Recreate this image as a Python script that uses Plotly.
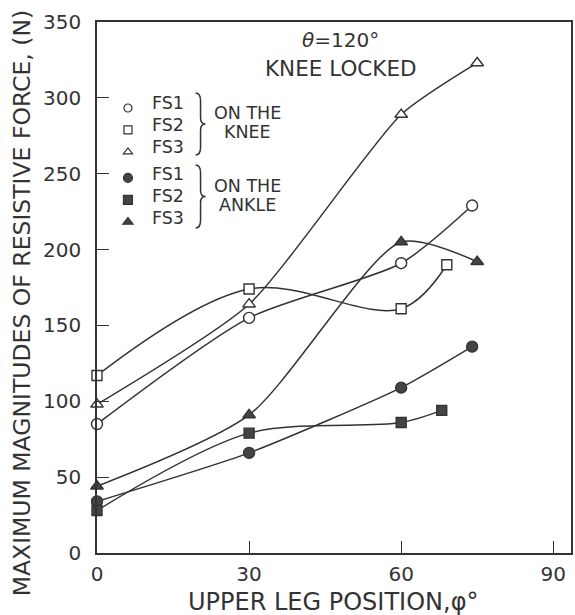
import plotly.graph_objects as go

# Upper leg position (degrees) and peak resistive force (N) per force sensor
knee_fs1_x = [0, 30, 60, 74]
knee_fs1_y = [85, 155, 191, 229]
knee_fs2_x = [0, 30, 60, 69]
knee_fs2_y = [117, 174, 161, 190]
knee_fs3_x = [0, 30, 60, 75]
knee_fs3_y = [98, 164, 289, 323]

ankle_fs1_x = [0, 30, 60, 74]
ankle_fs1_y = [34, 66, 109, 136]
ankle_fs2_x = [0, 30, 60, 68]
ankle_fs2_y = [28, 79, 86, 94]
ankle_fs3_x = [0, 30, 60, 75]
ankle_fs3_y = [44, 91, 205, 192]

sensor_names = ["FS1", "FS2", "FS3"]
x_ticks = [0, 30, 60, 90]
y_ticks = [0, 50, 100, 150, 200, 250, 300, 350]

INK = "#333333"
FILL = "#444444"
FONT = "DejaVu Sans"

W, H = 575, 615
M_L, M_R, M_T, M_B = 97, 2, 22, 62
PW, PH = W - M_L - M_R, H - M_T - M_B


def px(x):
    return (x - M_L) / PW


def py(y):
    return (H - M_B - y) / PH


# (group, x, y, symbol, filled, spline smoothing)
series = [
    ("knee", knee_fs1_x, knee_fs1_y, "circle", False, 0.7),
    ("knee", knee_fs2_x, knee_fs2_y, "square", False, 1.0),
    ("knee", knee_fs3_x, knee_fs3_y, "triangle-up", False, 0.6),
    ("ankle", ankle_fs1_x, ankle_fs1_y, "circle", True, 0.6),
    ("ankle", ankle_fs2_x, ankle_fs2_y, "square", True, 0.9),
    ("ankle", ankle_fs3_x, ankle_fs3_y, "triangle-up", True, 0.7),
]

fig = go.Figure()
for grp, xs, ys, sym, filled, sm in series:
    fill = FILL if filled else "white"
    size = 11 if sym != "square" else 10
    fig.add_trace(go.Scatter(
        x=xs, y=ys, mode="lines+markers", showlegend=False,
        line=dict(color=INK, width=1.5, shape="spline", smoothing=sm),
        marker=dict(symbol=sym, size=size, color=fill, line=dict(color=INK, width=1.4)),
        cliponaxis=False,
    ))
for grp, xs, ys, sym, filled, sm in series:
    fill = FILL if filled else "white"
    fig.add_trace(go.Scatter(
        x=[None], y=[None], mode="markers", name=" ", legendgroup=grp,
        marker=dict(symbol=sym, size=9 if filled else 8, color=fill,
                    line=dict(color=INK, width=1.2)),
    ))

fig.update_layout(
    legend=dict(
        x=px(108), y=py(92), xanchor="left", yanchor="top",
        font=dict(family=FONT, size=14.6, color=INK),
        bgcolor="rgba(0,0,0,0)", borderwidth=0, tracegroupgap=4,
        itemwidth=30,
    )
)

text_items = []
# sensor labels next to the key symbols
for row_y, name in zip([103, 125, 147], sensor_names):
    text_items.append((name, 150, row_y, 17.5, "left", 0))
for row_y, name in zip([174, 196, 218], sensor_names):
    text_items.append((name, 150, row_y, 17.5, "left", 0))
text_items += [
    ("<i>θ</i>=120°", 342, 40, 20, "center", 0),
    ("KNEE LOCKED", 342, 68, 21.5, "center", 0),
    ("ON THE", 248, 113, 17.5, "center", 0),
    ("KNEE", 248, 132, 17.5, "center", 0),
    ("ON THE", 248, 186, 17.5, "center", 0),
    ("ANKLE", 248, 205, 17.5, "center", 0),
    ("MAXIMUM MAGNITUDES OF RESISTIVE FORCE, (N)", 22, 303, 23.5, "center", -90),
    ("UPPER LEG POSITION,φ°", 334, 602, 24, "center", 0),
]
for txt, x0, y0, fs, anchor, ang in text_items:
    fig.add_annotation(
        text=txt, x=px(x0), y=py(y0), xref="paper", yref="paper",
        showarrow=False, xanchor=anchor, yanchor="middle", textangle=ang,
        font=dict(family=FONT, size=fs, color=INK),
    )


def brace(x0, top, bottom, depth=10):
    mid = (top + bottom) / 2
    xa, xb = px(x0), px(x0 + depth / 2)
    xc = px(x0 + depth)
    return (f"M {xa} {py(top)} Q {xb} {py(top)} {xb} {py(top + 8)} "
            f"L {xb} {py(mid - 6)} Q {xb} {py(mid)} {xc} {py(mid)} "
            f"Q {xb} {py(mid)} {xb} {py(mid + 6)} "
            f"L {xb} {py(bottom - 8)} Q {xb} {py(bottom)} {xa} {py(bottom)}")


for top, bottom in [(93, 155), (165, 228)]:
    fig.add_shape(type="path", path=brace(196, top, bottom), xref="paper", yref="paper",
                  line=dict(color=INK, width=1.5))

axis_common = dict(
    showgrid=False, zeroline=False, showline=True, linecolor=INK, linewidth=1.5,
    mirror=True, ticks="inside", ticklen=12, tickwidth=1.3, tickcolor=INK,
    tickfont=dict(family=FONT, size=20, color=INK),
)
fig.update_xaxes(
    range=[0, 93.5], tickvals=x_ticks, ticktext=[str(v) for v in x_ticks],
    ticklabelstandoff=2,
    **axis_common,
)
fig.update_yaxes(
    range=[0, 350], tickvals=y_ticks, ticktext=[str(v) for v in y_ticks],
    ticklabelstandoff=10,
    **axis_common,
)

fig.update_layout(
    width=W, height=H,
    margin=dict(l=M_L, r=M_R, t=M_T, b=M_B),
    paper_bgcolor="white", plot_bgcolor="white",
)

fig.write_html("out.html")
